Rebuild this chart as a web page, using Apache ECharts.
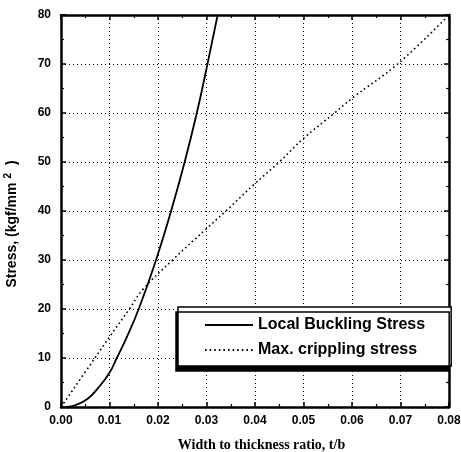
<!DOCTYPE html>
<html>
<head>
<meta charset="utf-8">
<script src="https://cdn.jsdelivr.net/npm/echarts@6/dist/echarts.min.js"></script>
<style>
  html, body { margin: 0; padding: 0; background: #fff; }
  #chart { width: 461px; height: 452px; }
</style>
</head>
<body>
<div id="chart"></div>
<script>
// values
const bucklingRatio = [0.0012, 0.003, 0.0055, 0.0075, 0.01, 0.0115, 0.0135, 0.0161, 0.0196, 0.0227, 0.0255, 0.028, 0.0302, 0.0323]
const bucklingStress = [0, 0.4, 1.7, 3.7, 7.0, 10, 14.1, 20.2, 30, 40, 50, 60, 70, 80]

const cripplingRatio = [0, 0.007, 0.01, 0.0141, 0.0168, 0.023, 0.03, 0.034, 0.04, 0.045, 0.05, 0.0564, 0.06, 0.0694, 0.0795]
const cripplingStress = [0, 10, 14.3, 20, 23.9, 30, 36.4, 40, 45.6, 50, 54.8, 60, 63, 70, 79.5]

const seriesNames = ['Local Buckling Stress', 'Max. crippling stress']

const zip = (xs, ys) => xs.map((x, i) => [x, ys[i]])

const chart = echarts.init(document.getElementById('chart'))

const axisLine = { show: true, onZero: false, lineStyle: { color: '#000', width: 2.5 } }
const tick = { show: true, inside: true, length: 5, lineStyle: { color: '#000', width: 1.5 } }
const minor = { show: true, splitNumber: 2, length: 3, lineStyle: { color: '#000', width: 1.2 } }
const labelFont = { color: '#000', fontFamily: 'Liberation Sans, Arial, sans-serif', fontWeight: 'bold', fontSize: 12 }

chart.setOption({
  animation: false,
  grid: { left: 61, top: 15, right: 12, bottom: 45, outerBoundsMode: 'none' },
  legend: {
    orient: 'vertical',
    left: 178,
    top: 307,
    data: seriesNames,
    itemWidth: 48,
    itemHeight: 14,
    itemGap: 9,
    padding: [10, 26, 8, 26],
    backgroundColor: '#fff',
    borderColor: '#000',
    borderWidth: 1.5,
    shadowColor: '#000',
    shadowBlur: 0,
    shadowOffsetX: -2,
    shadowOffsetY: 5,
    itemStyle: { color: 'transparent', borderWidth: 0 },
    textStyle: {
      color: '#000',
      fontFamily: 'Liberation Sans, Arial, sans-serif',
      fontWeight: 'bold',
      fontSize: 16
    }
  },
  xAxis: [
    {
      type: 'value',
      min: 0,
      max: 0.08,
      interval: 0.01,
      name: 'Width to thickness ratio, t/b',
      nameLocation: 'middle',
      nameGap: 31,
      nameTextStyle: {
        color: '#000',
        fontFamily: 'Liberation Serif, Times New Roman, serif',
        fontWeight: 'bold',
        fontSize: 14,
        padding: [0, 0, 0, 13]
      },
      axisLine,
      axisTick: tick,
      minorTick: minor,
      axisLabel: { ...labelFont, margin: 8, formatter: v => v.toFixed(2) },
      splitLine: { show: true, lineStyle: { color: '#000', type: [1, 3], width: 1 } }
    },
    {
      type: 'value',
      position: 'top',
      min: 0,
      max: 0.08,
      interval: 0.01,
      axisLine,
      axisTick: tick,
      minorTick: minor,
      axisLabel: { show: false },
      splitLine: { show: false }
    }
  ],
  yAxis: [
    {
      type: 'value',
      min: 0,
      max: 80,
      interval: 10,
      name: '{a|Stress, (kgf/mm}{s|2}{a| )}',
      nameLocation: 'middle',
      nameGap: 39,
      nameTextStyle: {
        padding: [0, 26, 0, 0],
        rich: {
          a: { color: '#000', fontFamily: 'Liberation Sans, Arial, sans-serif', fontWeight: 'bold', fontSize: 14 },
          s: { color: '#000', fontFamily: 'Liberation Sans, Arial, sans-serif', fontWeight: 'bold', fontSize: 10, padding: [0, 4, 9, 4] }
        }
      },
      axisLine,
      axisTick: tick,
      minorTick: minor,
      axisLabel: { ...labelFont, margin: 10 },
      splitLine: { show: true, lineStyle: { color: '#000', type: [1, 3], width: 1 } }
    },
    {
      type: 'value',
      position: 'right',
      min: 0,
      max: 80,
      interval: 10,
      axisLine,
      axisTick: tick,
      minorTick: minor,
      axisLabel: { show: false },
      splitLine: { show: false }
    }
  ],
  series: [
    {
      name: seriesNames[0],
      type: 'line',
      smooth: true,
      symbol: 'none',
      data: zip(bucklingRatio, bucklingStress),
      lineStyle: { color: '#000', width: 1.8 },
      itemStyle: { color: '#000' }
    },
    {
      name: seriesNames[1],
      type: 'line',
      smooth: 0.4,
      symbol: 'none',
      data: zip(cripplingRatio, cripplingStress),
      lineStyle: { color: '#000', width: 1.6, type: [1.6, 3] },
      itemStyle: { color: '#000' }
    }
  ]
})
</script>
</body>
</html>
